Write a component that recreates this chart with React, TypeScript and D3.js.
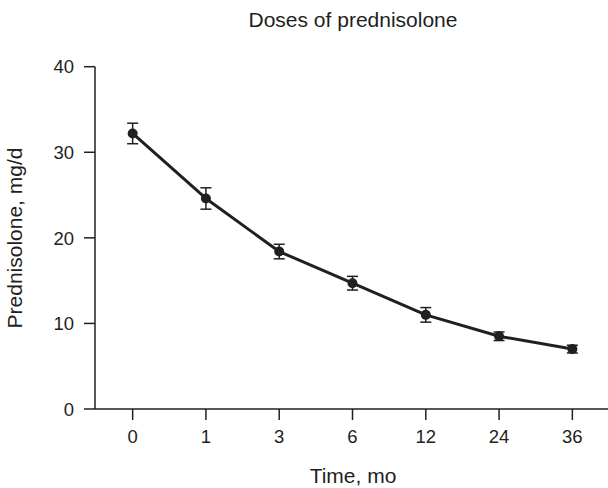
import React from "react";
import * as d3 from "d3";

const categories: string[] = ["0", "1", "3", "6", "12", "24", "36"];
const means: number[] = [32.2, 24.6, 18.4, 14.7, 11.0, 8.5, 7.0];
const errors: number[] = [1.2, 1.25, 0.85, 0.8, 0.85, 0.5, 0.45];
const yTicks: number[] = [0, 10, 20, 30, 40];

const W = 608;
const H = 488;
const INK = "#231f20";
const FONT = "'Liberation Sans', Arial, Helvetica, sans-serif";

export default function App() {
  const x = d3.scalePoint<string>().domain(categories).range([96, 609]).padding(0.5);
  const y = d3.scaleLinear().domain([0, 40]).range([409, 66.7]);
  const axisLeft = 95;
  const axisBottom = y(0);

  const line = d3
    .line<number>()
    .x((_, i) => x(categories[i]) as number)
    .y((d) => y(d));

  return (
    <svg
      width={W}
      height={H}
      style={{ position: "absolute", left: 0, top: 0, background: "#fff" }}
      fontFamily={FONT}
    >
      <text x={353} y={27} textAnchor="middle" fontSize={21} fill={INK}>
        Doses of prednisolone
      </text>

      {/* y axis */}
      <line x1={axisLeft} x2={axisLeft} y1={y(40)} y2={axisBottom} stroke={INK} strokeWidth={1.5} />
      {yTicks.map((t) => (
        <g key={t}>
          <line x1={axisLeft - 11} x2={axisLeft} y1={y(t)} y2={y(t)} stroke={INK} strokeWidth={1.5} />
          <text x={74} y={y(t)} dy="0.36em" textAnchor="end" fontSize={18.5} fill={INK}>
            {t}
          </text>
        </g>
      ))}

      {/* x axis */}
      <line x1={axisLeft} x2={608} y1={axisBottom} y2={axisBottom} stroke={INK} strokeWidth={1.5} />
      {categories.map((c) => (
        <g key={c}>
          <line x1={x(c)} x2={x(c)} y1={axisBottom} y2={axisBottom + 11} stroke={INK} strokeWidth={1.5} />
          <text x={x(c)} y={443} textAnchor="middle" fontSize={18.5} fill={INK}>
            {c}
          </text>
        </g>
      ))}

      <text x={353} y={483} textAnchor="middle" fontSize={21} fill={INK}>
        Time, mo
      </text>
      <text
        transform={`translate(22, 238) rotate(-90)`}
        textAnchor="middle"
        fontSize={21}
        fill={INK}
      >
        Prednisolone, mg/d
      </text>

      {/* data line */}
      <path d={line(means) ?? ""} fill="none" stroke={INK} strokeWidth={3} strokeLinejoin="round" />

      {/* error bars */}
      {means.map((m, i) => {
        const cx = x(categories[i]) as number;
        const top = y(m + errors[i]);
        const bot = y(m - errors[i]);
        return (
          <g key={i} stroke={INK} strokeWidth={1.5}>
            <line x1={cx} x2={cx} y1={top} y2={bot} />
            <line x1={cx - 5.5} x2={cx + 5.5} y1={top} y2={top} />
            <line x1={cx - 5.5} x2={cx + 5.5} y1={bot} y2={bot} />
          </g>
        );
      })}

      {/* markers */}
      {means.map((m, i) => (
        <circle key={i} cx={x(categories[i]) as number} cy={y(m)} r={5} fill={INK} />
      ))}
    </svg>
  );
}
